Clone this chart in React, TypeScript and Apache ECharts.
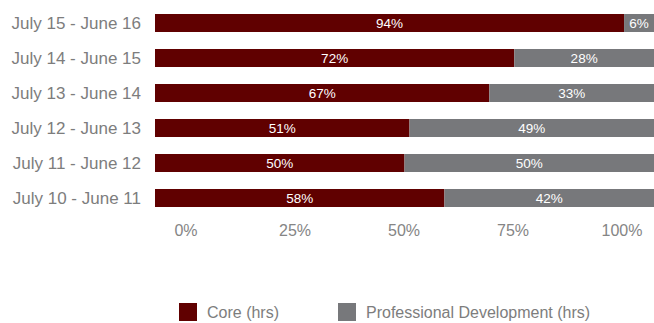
import React, { useEffect, useRef } from "react";
import * as echarts from "echarts";

const categories = [
  "July 10 - June 11",
  "July 11 - June 12",
  "July 12 - June 13",
  "July 13 - June 14",
  "July 14 - June 15",
  "July 15 - June 16",
];
const coreValues = [58, 50, 51, 67, 72, 94];
const proDevValues = [42, 50, 49, 33, 28, 6];
const seriesNames = ["Core (hrs)", "Professional Development (hrs)"];

const FONT = "'Liberation Sans', Arial, Helvetica, sans-serif";

export default function App() {
  const ref = useRef<HTMLDivElement>(null);
  useEffect(() => {
    if (!ref.current) return;
    const chart = echarts.init(ref.current, undefined, { renderer: "svg" });
    const labelStyle = {
      show: true,
      position: "inside" as const,
      color: "#ffffff",
      fontSize: 13.5,
      fontFamily: FONT,
      formatter: "{c}%",
    };
    chart.setOption({
      animation: false,
      textStyle: { fontFamily: FONT },
      grid: [
        { left: 155, right: 0, top: 5.5, height: 210 },
        { left: 186, width: 436, top: 5.5, height: 210 },
      ],
      xAxis: [
        { gridIndex: 0, type: "value", min: 0, max: 100, show: false },
        {
          gridIndex: 1,
          type: "value",
          min: 0,
          max: 100,
          interval: 25,
          axisLine: { show: false },
          axisTick: { show: false },
          splitLine: { show: false },
          axisLabel: {
            formatter: "{value}%",
            color: "#858585",
            fontSize: 16,
            fontFamily: FONT,
            margin: 7,
          },
        },
      ],
      yAxis: [
        {
          gridIndex: 0,
          type: "category",
          data: categories,
          axisLine: { show: false },
          axisTick: { show: false },
          splitLine: { show: false },
          axisLabel: {
            color: "#7d7d7d",
            fontSize: 17,
            fontFamily: FONT,
            margin: 14,
          },
        },
        { gridIndex: 1, type: "category", data: categories, show: false },
      ],
      legend: {
        data: seriesNames,
        icon: "rect",
        itemWidth: 18,
        itemHeight: 18,
        left: 179,
        top: 303,
        padding: 0,
        itemGap: 59,
        textStyle: {
          color: "#7d7d7d",
          fontSize: 16,
          fontFamily: FONT,
          padding: [0, 0, 0, 5],
        },
      },
      series: [
        {
          name: seriesNames[0],
          type: "bar",
          stack: "total",
          xAxisIndex: 0,
          yAxisIndex: 0,
          barWidth: 18,
          data: coreValues,
          itemStyle: { color: "#600000" },
          label: labelStyle,
        },
        {
          name: seriesNames[1],
          type: "bar",
          stack: "total",
          xAxisIndex: 0,
          yAxisIndex: 0,
          barWidth: 18,
          data: proDevValues,
          itemStyle: { color: "#77787b" },
          label: labelStyle,
        },
      ],
    });
    return () => chart.dispose();
  }, []);
  return (
    <div
      ref={ref}
      style={{ position: "absolute", left: 0, top: 0, width: 654, height: 323 }}
    />
  );
}
